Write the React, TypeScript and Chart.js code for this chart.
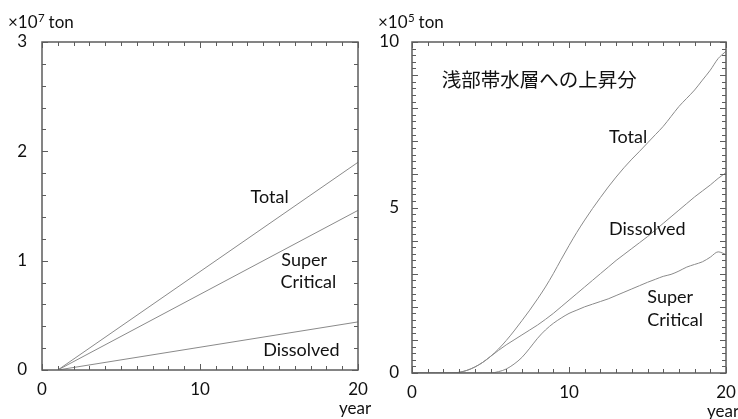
import React, { useEffect, useRef } from "react";
import { Chart, registerables } from "chart.js";

Chart.register(...registerables);

// ---------- data ----------
const leftYears = [1, 20];
const leftTotal = [0, 1.9];
const leftSuper = [0, 1.46];
const leftDissolved = [0, 0.44];

const rightYears = [
  0, 0.5, 1, 1.5, 2, 2.5, 3, 3.5, 4, 4.5, 5, 5.5, 6, 6.5, 7, 7.5, 8, 8.5, 9, 9.5, 10,
  10.5, 11, 11.5, 12, 12.5, 13, 13.5, 14, 14.5, 15, 15.5, 16, 16.5, 17, 17.5, 18, 18.5,
  19, 19.5, 20,
];
const rightTotal = [
  0, 0, 0, 0, 0, 0, 0.02, 0.08, 0.18, 0.32, 0.5, 0.72, 0.98, 1.27, 1.58, 1.9, 2.24, 2.6,
  3.0, 3.43, 3.85, 4.25, 4.62, 4.97, 5.3, 5.62, 5.92, 6.2, 6.46, 6.7, 6.95, 7.2, 7.45, 7.75,
  8.05, 8.3, 8.55, 8.85, 9.15, 9.5, 9.72,
];
const rightDissolved = [
  0, 0, 0, 0, 0, 0, 0.02, 0.08, 0.18, 0.32, 0.5, 0.68, 0.85, 1.0, 1.15, 1.3, 1.45, 1.62,
  1.8, 2.0, 2.2, 2.4, 2.6, 2.8, 3.0, 3.2, 3.4, 3.58, 3.76, 3.94, 4.12, 4.32, 4.52, 4.72,
  4.92, 5.12, 5.32, 5.5, 5.68, 5.88, 6.05,
];
const rightSuper = [
  0, 0, 0, 0, 0, 0, 0, 0, 0, 0, 0, 0.04, 0.12, 0.27, 0.47, 0.75, 1.05, 1.3, 1.5, 1.66,
  1.8, 1.9, 2.0, 2.08, 2.16, 2.24, 2.34, 2.44, 2.54, 2.64, 2.74, 2.83, 2.92, 2.98, 3.08,
  3.2, 3.28, 3.36, 3.5, 3.66, 3.58,
];

const leftYTicks = [0, 1, 2, 3];
const rightYTicks = [0, 5, 10];
const xTicks = [0, 10, 20];

// annotation texts in data coordinates [text, x, y]
const leftNotes: [string, number, number][] = [
  ["Total", 13.2, 1.58],
  ["Super", 15.15, 1.0],
  ["Critical", 15.1, 0.8],
  ["Dissolved", 14.0, 0.18],
];
const rightNotes: [string, number, number][] = [
  ["Total", 12.55, 7.13],
  ["Dissolved", 12.55, 4.35],
  ["Super", 14.99, 2.3],
  ["Critical", 14.99, 1.6],
];
const rightTitle = "浅部帯水層への上昇分";

const FONT = "Lato, 'Open Sans', sans-serif";
const LINE = "#8a8a8a";
const FRAME = "#5c5c5c";

type Deco = {
  yMinor: number;
  notes: [string, number, number][];
  exp: string;
  title?: [string, number, number];
};

const decoPlugin = {
  id: "deco",
  afterDraw(chart: any, _args: any, opts: any) {
    const d: Deco = opts.deco;
    if (!d) return;
    const ctx = chart.ctx;
    const { left, right, top, bottom } = chart.chartArea;
    const xs = chart.scales.x;
    const ys = chart.scales.y;
    ctx.save();
    // ticks
    ctx.strokeStyle = FRAME;
    ctx.lineWidth = 1;
    ctx.beginPath();
    for (let v = xs.min; v <= xs.max + 1e-9; v += 1) {
      const px = Math.round(xs.getPixelForValue(v)) + 0.5;
      const len = Math.abs(v % 10) < 1e-9 ? 6 : 4;
      ctx.moveTo(px, bottom);
      ctx.lineTo(px, bottom - len);
      ctx.moveTo(px, top);
      ctx.lineTo(px, top + len);
    }
    const n = Math.round((ys.max - ys.min) / d.yMinor);
    for (let i = 0; i <= n; i++) {
      const v = ys.min + i * d.yMinor;
      const py = Math.round(ys.getPixelForValue(v)) + 0.5;
      const isMajor = Math.abs(v - Math.round(v)) < 1e-6;
      const len = isMajor ? 6 : 4;
      ctx.moveTo(left, py);
      ctx.lineTo(left + len, py);
      ctx.moveTo(right, py);
      ctx.lineTo(right - len, py);
    }
    ctx.stroke();
    // frame
    ctx.lineWidth = 1.5;
    ctx.strokeRect(left, top, right - left, bottom - top);

    // notes
    ctx.fillStyle = "#111";
    ctx.font = `18px ${FONT}`;
    ctx.textBaseline = "middle";
    ctx.textAlign = "left";
    for (const [t, x, y] of d.notes) {
      ctx.fillText(t, xs.getPixelForValue(x), ys.getPixelForValue(y));
    }
    if (d.title) {
      ctx.font = `19.5px 'Noto Sans CJK JP', sans-serif`;
      ctx.fillText(d.title[0], xs.getPixelForValue(d.title[1]), ys.getPixelForValue(d.title[2]));
    }
    // unit label
    ctx.font = `17px ${FONT}`;
    let ux = left - 34;
    if (ux < 3) ux = 3;
    const uy = top - 19;
    ctx.fillText("×10", ux, uy);
    const w = ctx.measureText("×10").width;
    ctx.font = `11.5px ${FONT}`;
    ctx.fillText(d.exp, ux + w + 0.5, uy - 5);
    const w2 = ctx.measureText(d.exp).width;
    ctx.font = `17px ${FONT}`;
    ctx.fillText(" ton", ux + w + w2, uy);
    // year
    ctx.textAlign = "center";
    ctx.fillText("year", right - 3, bottom + 39);
    ctx.restore();
  },
};

function makeConfig(
  datasets: any[],
  yMax: number,
  yTicks: number[],
  deco: Deco,
  pad: { top: number; right: number; bottom: number },
  yWidth: number,
  yPad: number
): any {
  return {
    type: "line",
    data: { datasets },
    options: {
      animation: false,
      responsive: false,
      maintainAspectRatio: false,
      layout: { padding: { left: 0, top: pad.top, right: pad.right, bottom: pad.bottom } },
      plugins: {
        legend: { display: false },
        tooltip: { enabled: false },
        deco: { deco },
      },
      elements: { point: { radius: 0 } },
      scales: {
        x: {
          type: "linear",
          min: 0,
          max: 20,
          afterBuildTicks: (s: any) => {
            s.ticks = xTicks.map((v) => ({ value: v }));
          },
          afterFit: (s: any) => {
            s.height = 30;
            s.paddingLeft = 0;
            s.paddingRight = 0;
          },
          grid: { display: false, drawTicks: false },
          border: { display: false },
          ticks: {
            autoSkip: false,
            maxRotation: 0,
            padding: 9,
            color: "#111",
            font: { family: FONT, size: 17 },
          },
        },
        y: {
          type: "linear",
          min: 0,
          max: yMax,
          afterBuildTicks: (s: any) => {
            s.ticks = yTicks.map((v) => ({ value: v }));
          },
          afterFit: (s: any) => {
            s.width = yWidth;
            s.paddingTop = 0;
            s.paddingBottom = 0;
          },
          grid: { display: false, drawTicks: false },
          border: { display: false },
          ticks: {
            autoSkip: false,
            padding: yPad,
            color: "#111",
            font: { family: FONT, size: 17 },
          },
        },
      },
    },
    plugins: [decoPlugin],
  };
}

function line(xs: number[], ys: number[]) {
  return {
    data: xs.map((x, i) => ({ x, y: ys[i] })),
    borderColor: LINE,
    borderWidth: 1,
    fill: false,
    cubicInterpolationMode: "monotone",
    pointRadius: 0,
  };
}

function ChartBox(props: { config: any; left: number; width: number }) {
  const ref = useRef<HTMLCanvasElement | null>(null);
  useEffect(() => {
    if (!ref.current) return;
    const c = new Chart(ref.current, props.config);
    return () => c.destroy();
  }, []);
  return (
    <canvas
      ref={ref}
      width={props.width}
      height={419}
      style={{ position: "absolute", left: props.left, top: 0, width: props.width, height: 419 }}
    />
  );
}

export default function App() {
  const leftCfg = makeConfig(
    [line(leftYears, leftTotal), line(leftYears, leftSuper), line(leftYears, leftDissolved)],
    3,
    leftYTicks,
    { yMinor: 0.2, notes: leftNotes, exp: "7" },
    { top: 42, right: 14, bottom: 19 },
    42,
    15
  );
  const rightCfg = makeConfig(
    [line(rightYears, rightTotal), line(rightYears, rightDissolved), line(rightYears, rightSuper)],
    10,
    rightYTicks,
    { yMinor: 0.2, notes: rightNotes, exp: "5", title: [rightTitle, 1.9, 8.85] },
    { top: 42, right: 12, bottom: 16 },
    43,
    13
  );
  return (
    <div style={{ position: "absolute", left: 0, top: 0, width: 738, height: 419, background: "#fff" }}>
      <ChartBox config={leftCfg} left={0} width={372} />
      <ChartBox config={rightCfg} left={369} width={369} />
    </div>
  );
}
